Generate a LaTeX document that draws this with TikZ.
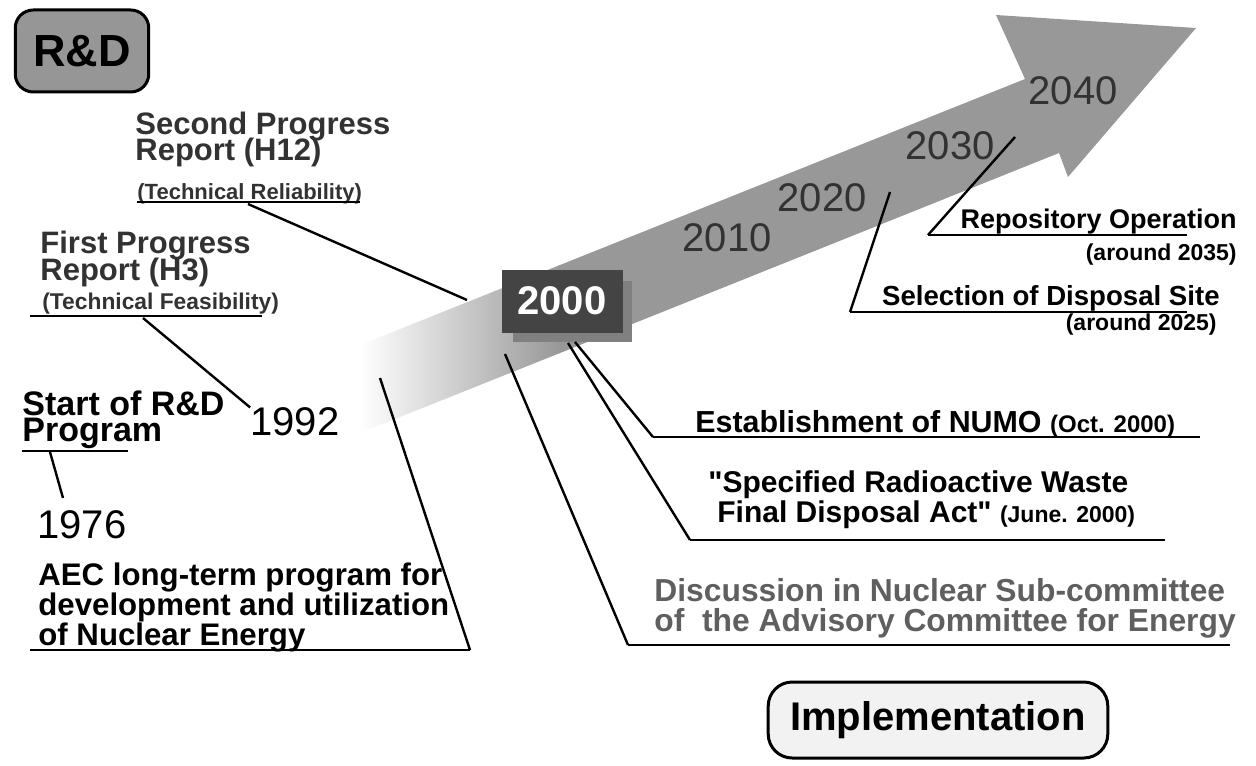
\documentclass[tikz,border=0pt]{standalone}
\usepackage{fontspec}
\setmainfont{Liberation Sans}
\usetikzlibrary{positioning}
\definecolor{arrowgray}{RGB}{152,152,152}
\definecolor{boxdark}{RGB}{68,68,68}
\definecolor{boxshade}{RGB}{128,128,128}
\definecolor{inkgray}{RGB}{50,50,50}
\definecolor{softgray}{RGB}{95,95,95}
\definecolor{rdgray}{RGB}{150,150,150}
\definecolor{paper}{RGB}{242,242,242}
\newcommand\tightlines{\lineskiplimit -20pt\relax}

\begin{document}
\begin{tikzpicture}[x=0.5pt, y=-0.5pt,
    lbl/.style={inner sep=0pt, align=left,
      font=\bfseries\fontsize{15.5}{13}\selectfont\tightlines},
    note/.style={inner sep=0pt, font=\bfseries\fontsize{11}{13}\selectfont},
    yr/.style={inner sep=0pt, font=\fontsize{20}{24}\selectfont},
    tag/.style={draw=black, line width=1.5pt, rounded corners=9pt, inner xsep=9pt, inner ysep=5pt},
    lead/.style={draw=black, line width=1.2pt},
    uline/.style={draw=black, line width=0.9pt},
  ]
  \useasboundingbox (0,0) rectangle (1256,765);

  % the time arrow
  \shade[left color=white, right color=arrowgray]
    (360,345) -- (560,265) -- (560,353) -- (360,433) -- cycle;
  \fill[arrowgray] (559,265.4) -- (1025,79) -- (996,15) -- (1196,28)
    -- (1068,177) -- (1059,153) -- (559,353.4) -- cycle;
  \node[yr, text=inkgray] (y2010) at (727,238) {2010};
  \node[yr, text=inkgray] (y2020) at (822,198) {2020};
  \node[yr, text=inkgray] (y2030) at (950,146) {2030};
  \node[yr, text=inkgray] (y2040) at (1073,91) {2040};
  \fill[boxshade] (513,281) rectangle (632,342);
  \node[fill=boxdark, text=white, minimum width=60.5pt, minimum height=31.5pt,
    font=\bfseries\fontsize{20}{24}\selectfont] (y2000) at (562,301) {2000};

  % phase tags
  \node[tag, fill=rdgray, minimum width=64.5pt, minimum height=41pt,
    font=\bfseries\fontsize{22.5}{26}\selectfont] (rd) at (82,51) {R\&D};
  \node[tag, fill=paper, font=\bfseries\fontsize{20}{24}\selectfont, rounded corners=12pt,
    inner xsep=11pt, minimum height=38pt] (impl) at (938,720) {Implementation};

  % R&D side
  \node[lbl, anchor=north west, text=inkgray] (sec) at (135,112) {Second Progress\\Report (H12)};
  \node[note, text=inkgray, anchor=north west] (secsub) at (137,183) {(Technical Reliability)};
  \node[lbl, anchor=north west, text=inkgray, font=\bfseries\fontsize{15.5}{13.5}\selectfont\tightlines]
    (fst) at (40,231) {First Progress\\Report (H3)};
  \node[note, font=\bfseries\fontsize{11.4}{13}\selectfont, text=inkgray, anchor=north west]
    (fstsub) at (42,293) {(Technical Feasibility)};
  \node[lbl, anchor=north west, font=\bfseries\fontsize{17}{13}\selectfont\tightlines]
    (start) at (22,390) {Start of R\&D\\Program};
  \node[yr] (y1992) at (295,422) {1992};
  \node[yr] (y1976) at (82,525) {1976};
  \node[lbl, anchor=north west, font=\bfseries\fontsize{15.6}{15}\selectfont\tightlines]
    (aec) at (38,562) {AEC long-term program for\\development and utilization\\of Nuclear Energy};

  % implementation side
  \node[lbl, anchor=east, font=\bfseries\fontsize{13.5}{16}\selectfont] (oper) at (1237,222) {Repository Operation};
  \node[note, anchor=east, font=\bfseries\fontsize{11.5}{14}\selectfont] (opersub) at (1237,255) {(around 2035)};
  \node[lbl, anchor=east, font=\bfseries\fontsize{13.8}{16}\selectfont] (site) at (1220,298) {Selection of Disposal Site};
  \node[note, anchor=east, font=\bfseries\fontsize{11.5}{14}\selectfont] (sitesub) at (1217,325) {(around 2025)};
  \node[lbl, anchor=base west, font=\bfseries\fontsize{15.2}{16}\selectfont] (numo) at (695,432)
    {Establishment of NUMO {\fontsize{12}{13}\selectfont (Oct. 2000)}};
  \node[lbl, anchor=north west, font=\bfseries\fontsize{15}{15}\selectfont\tightlines] (act) at (708,470)
    {\textquotedbl Specified Radioactive Waste\\\hspace{4.5pt}Final Disposal Act\textquotedbl\ {\fontsize{11.5}{12}\selectfont (June. 2000)}};
  \node[lbl, anchor=north west, text=softgray, font=\bfseries\fontsize{15.9}{15}\selectfont\tightlines]
    (disc) at (654,578) {Discussion in Nuclear Sub-committee\\of\ \ the Advisory Committee for Energy};

  % underlines and leaders
  \coordinate (relL) at (137,202);  \coordinate (relR) at (360,202);  \coordinate (relM) at (248,204);
  \coordinate (feaL) at (30,316);   \coordinate (feaR) at (262,316);  \coordinate (feaM) at (143,318);
  \coordinate (prgL) at (22,451);   \coordinate (prgR) at (128,451);  \coordinate (prgM) at (50,452);
  \coordinate (nucL) at (30,650);   \coordinate (nucR) at (470,650);
  \coordinate (opL) at (928,235);   \coordinate (opR) at (1187,235);
  \coordinate (selL) at (850,312);  \coordinate (selR) at (1187,312);
  \coordinate (numoL) at (653,437); \coordinate (numoR) at (1200,437);
  \coordinate (actL) at (690,540);  \coordinate (actR) at (1165,540);
  \coordinate (discL) at (628,645); \coordinate (discR) at (1230,645);
  \coordinate (tailR) at (467,300);
  \coordinate (tailS) at (380,378);
  \coordinate (tailD) at (505,354);
  \coordinate (fanA) at (568,343);
  \coordinate (fanN) at (575,342);
  \coordinate (at2030) at (1015,137);
  \coordinate (at2020) at (890,192);
  \coordinate (top1976) at (63,498);

  \foreach \a/\b in {relL/relR, feaL/feaR, prgL/prgR, nucL/nucR, opL/opR,
                     selL/selR, numoL/numoR, actL/actR, discL/discR}
    \draw[uline] (\a) -- (\b);

  \draw[lead] (relM) -- (tailR);
  \draw[lead] (feaM) -- (y1992.north west);
  \draw[lead] (prgM) -- (top1976);
  \draw[lead] (tailS) -- (nucR);
  \draw[lead] (tailD) -- (discL);
  \draw[lead] (fanA) -- (actL);
  \draw[lead] (fanN) -- (numoL);
  \draw[lead] (at2020) -- (selL);
  \draw[lead] (at2030) -- (opL);
\end{tikzpicture}
\end{document}
